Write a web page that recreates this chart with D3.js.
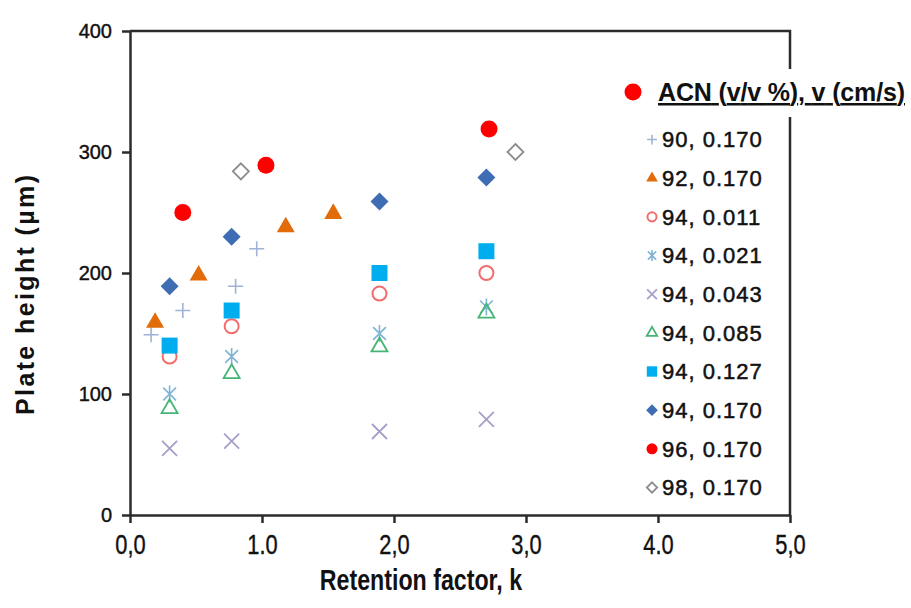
<!DOCTYPE html>
<html>
<head>
<meta charset="utf-8">
<script src="https://cdn.jsdelivr.net/npm/d3@7"></script>
<style>
  body { margin: 0; background: #fff; }
  svg { display: block; }
</style>
</head>
<body>
<script>
// --- data

const kTicks = [0, 1, 2, 3, 4, 5]
const kTickLabels = ['0,0', '1.0', '2,0', '3,0', '4.0', '5,0']
const hTicks = [0, 100, 200, 300, 400]

const seriesNames = ['90, 0.170', '92, 0.170', '94, 0.011', '94, 0.021', '94, 0.043',
                     '94, 0.085', '94, 0.127', '94, 0.170', '96, 0.170', '98, 0.170']

const k90_170 = [0.16, 0.40, 0.80, 0.96]
const h90_170 = [149, 169, 189, 220]
const k92_170 = [0.19, 0.52, 1.18, 1.54]
const h92_170 = [159, 198, 238, 249]
const k94_011 = [0.30, 0.77, 1.89, 2.70]
const h94_011 = [131, 156, 183, 200]
const k94_021 = [0.30, 0.77, 1.89, 2.70]
const h94_021 = [100, 131, 150, 172]
const k94_043 = [0.30, 0.77, 1.89, 2.70]
const h94_043 = [55, 61, 69, 79]
const k94_085 = [0.30, 0.77, 1.89, 2.70]
const h94_085 = [88, 117, 139, 167]
const k94_127 = [0.30, 0.77, 1.89, 2.70]
const h94_127 = [140, 169, 200, 218]
const k94_170 = [0.30, 0.77, 1.89, 2.70]
const h94_170 = [189, 230, 259, 279]
const k96_170 = [0.40, 1.03, 2.72]
const h96_170 = [250, 289, 319]
const k98_170 = [0.84, 2.92]
const h98_170 = [284, 300]

// --- marker shapes, size = (2r)^2

const rOf = size => Math.sqrt(size) / 2
const shapes = {
    plus: {draw(c, s) { const r = rOf(s); c.moveTo(-r, 0); c.lineTo(r, 0); c.moveTo(0, -r); c.lineTo(0, r) }},
    times: {draw(c, s) { const r = rOf(s) * 0.75; c.moveTo(-r, -r); c.lineTo(r, r); c.moveTo(r, -r); c.lineTo(-r, r) }},
    asterisk: {draw(c, s) {
        const r = rOf(s), d = r * 0.75
        c.moveTo(-d, -d); c.lineTo(d, d); c.moveTo(d, -d); c.lineTo(-d, d)
        c.moveTo(0, -r); c.lineTo(0, r)
    }},
    triangle: {draw(c, s) {
        const r = rOf(s), h = r * Math.sqrt(3)
        c.moveTo(0, -h * 2 / 3); c.lineTo(r, h / 3); c.lineTo(-r, h / 3); c.closePath()
    }},
    square: {draw(c, s) { const r = rOf(s); c.rect(-r, -r, 2 * r, 2 * r) }},
    diamond: {draw(c, s) { const r = rOf(s); c.moveTo(0, -r); c.lineTo(r, 0); c.lineTo(0, r); c.lineTo(-r, 0); c.closePath() }},
    circle: {draw(c, s) { const r = rOf(s); c.moveTo(r, 0); c.arc(0, 0, r, 0, 2 * Math.PI) }}
}

const series = [
    {name: seriesNames[0], k: k90_170, h: h90_170, shape: 'plus', r: 7.5, fill: 'none', stroke: '#9fb2d8', sw: 1.6},
    {name: seriesNames[1], k: k92_170, h: h92_170, shape: 'triangle', r: 9, fill: '#e26b0a', stroke: 'none', sw: 0},
    {name: seriesNames[2], k: k94_011, h: h94_011, shape: 'circle', r: 7, fill: 'none', stroke: '#f26d6d', sw: 2},
    {name: seriesNames[3], k: k94_021, h: h94_021, shape: 'asterisk', r: 8.5, fill: 'none', stroke: '#7fb4d4', sw: 1.6},
    {name: seriesNames[4], k: k94_043, h: h94_043, shape: 'times', r: 10, fill: 'none', stroke: '#a89ec9', sw: 1.8},
    {name: seriesNames[5], k: k94_085, h: h94_085, shape: 'triangle', r: 8, fill: 'none', stroke: '#45b575', sw: 1.8},
    {name: seriesNames[6], k: k94_127, h: h94_127, shape: 'square', r: 8, fill: '#00aeef', stroke: 'none', sw: 0},
    {name: seriesNames[7], k: k94_170, h: h94_170, shape: 'diamond', r: 9, fill: '#3e6db4', stroke: 'none', sw: 0},
    {name: seriesNames[8], k: k96_170, h: h96_170, shape: 'circle', r: 8.5, fill: '#ff0000', stroke: 'none', sw: 0},
    {name: seriesNames[9], k: k98_170, h: h98_170, shape: 'diamond', r: 8, fill: '#fff', stroke: '#8c8c8c', sw: 1.8}
]

// --- chart

const width = 911, height = 608
const svg = d3.select('body').append('svg')
    .attr('width', width).attr('height', height)

const x = d3.scaleLinear().domain([0, 5]).range([130, 790])
const y = d3.scaleLinear().domain([0, 400]).range([515, 31])

const axisColor = '#2b2b2b'
const font = '"Liberation Sans", Arial, sans-serif'

const gx = svg.append('g')
    .attr('transform', `translate(0,${y(0)})`)
    .call(d3.axisBottom(x).tickValues(kTicks).tickFormat((d, i) => kTickLabels[i])
        .tickSize(8).tickSizeOuter(0).tickPadding(11))
// the reference uses a condensed face for the k axis: squeeze it horizontally
gx.selectAll('text')
    .attr('transform', 'scale(0.78,1)')
    .attr('font-family', font)
    .attr('font-size', 28).attr('fill', '#111')
    .attr('stroke', '#111').attr('stroke-width', 0.4)

const gy = svg.append('g')
    .attr('transform', `translate(${x(0)},0)`)
    .call(d3.axisLeft(y).tickValues(hTicks).tickSize(8).tickSizeOuter(0).tickPadding(10))
gy.selectAll('text')
    .attr('font-family', font)
    .attr('font-size', 20).attr('fill', '#111')
    .attr('stroke', '#111').attr('stroke-width', 0.4)

svg.selectAll('.domain, .tick line').attr('stroke', axisColor).attr('stroke-width', 2.5)

// top and right edges of the frame
svg.append('path')
    .attr('d', `M${x(0)},${y(400)}H${x(5)}V${y(0)}`)
    .attr('fill', 'none').attr('stroke', axisColor).attr('stroke-width', 2.5)

// points
series.forEach(s => {
    svg.append('g').selectAll('path')
        .data(s.k.map((k, i) => ({k: k, h: s.h[i]})))
        .join('path')
        .attr('transform', d => `translate(${x(d.k)},${y(d.h)})`)
        .attr('d', d3.symbol(shapes[s.shape], (2 * s.r) ** 2))
        .attr('fill', s.fill).attr('stroke', s.stroke).attr('stroke-width', s.sw)
})

// axis titles
svg.append('text')
    .attr('transform', 'translate(421,590) scale(0.8,1)')
    .attr('text-anchor', 'middle')
    .attr('font-family', font)
    .attr('font-weight', 'bold').attr('font-size', 29).attr('fill', '#111')
    .text('Retention factor, k')

svg.append('text')
    .attr('transform', 'translate(34,295) rotate(-90)')
    .attr('text-anchor', 'middle')
    .attr('font-family', font)
    .attr('font-weight', 'bold').attr('font-size', 25).attr('fill', '#111')
    .attr('textLength', 240).attr('lengthAdjust', 'spacing')
    .text('Plate height (µm)')

// legend
const legend = svg.append('g')

legend.append('rect')
    .attr('x', 620).attr('y', 69).attr('width', 291).attr('height', 48)
    .attr('fill', '#fff')

legend.append('path')
    .attr('transform', 'translate(633,92)')
    .attr('d', d3.symbol(shapes.circle, 17 ** 2))
    .attr('fill', '#ff0000')

legend.append('text')
    .attr('x', 658).attr('y', 101)
    .attr('font-family', font)
    .attr('font-weight', 'bold').attr('font-size', 25).attr('fill', '#111')
    .attr('text-decoration', 'underline')
    .attr('textLength', 247).attr('lengthAdjust', 'spacing')
    .text('ACN (v/v %), v (cm/s)')

const rowY = d3.scaleLinear().domain([0, 9]).range([139.5, 487.5])

const rows = legend.selectAll('g.row')
    .data(series)
    .join('g')
    .attr('class', 'row')
    .attr('transform', (d, i) => `translate(652,${rowY(i)})`)

rows.append('path')
    .attr('d', d => d3.symbol(shapes[d.shape], (1.3 * d.r) ** 2)())
    .attr('fill', d => d.fill).attr('stroke', d => d.stroke).attr('stroke-width', d => d.sw)

rows.append('text')
    .attr('x', 10).attr('dy', '0.36em')
    .attr('font-family', font)
    .attr('font-size', 22).attr('letter-spacing', 1).attr('fill', '#111')
    .attr('stroke', '#111').attr('stroke-width', 0.5)
    .text(d => d.name)
</script>
</body>
</html>
